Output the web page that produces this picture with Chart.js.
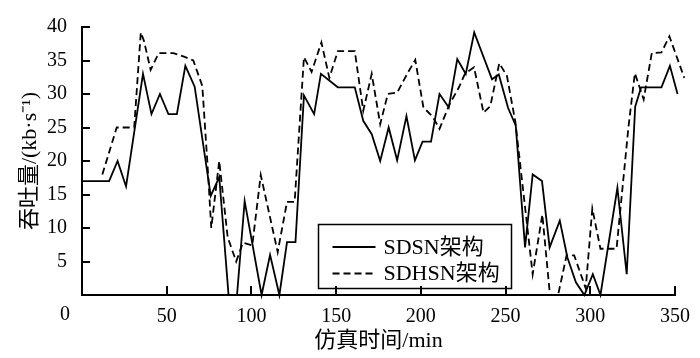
<!DOCTYPE html>
<html>
<head>
<meta charset="utf-8">
<script src="https://cdn.jsdelivr.net/npm/chart.js@4/dist/chart.umd.min.js"></script>
<style>
  html, body { margin: 0; padding: 0; background: #fff; }
  #wrap { width: 700px; height: 358px; }
</style>
</head>
<body>
<div id="wrap"><canvas id="throughputChart" width="700" height="358"></canvas></div>
<script>
// simulated time (min) and throughput (kb/s)
const sdsnTime = [0, 16, 21, 26, 36, 41, 46, 51, 56, 61, 66.5, 76, 81, 86.5, 91.5, 96, 106, 111, 116.5, 121, 126,
    131, 137, 141, 151, 161, 166, 171, 176, 181, 186, 191.5, 196.5, 201, 206, 211, 216.5, 221.5, 226.5, 231.5,
    242, 246, 251.5, 256, 261.5, 266, 271.5, 276, 282, 286.5, 291.5, 296.5, 301.5, 306, 316, 321.5, 326.5, 330,
    342, 347, 351.5];
const sdsnRate = [17, 17, 20, 16.2, 33, 27, 30, 27, 27, 34.2, 31.1, 14.8, 17.6, 0, 0, 14, 0, 6, 0, 7.9, 7.9,
    29.8, 27, 33, 31, 31, 26, 24, 20, 25, 20.1, 26.7, 20.1, 22.9, 22.9, 30, 28, 35.2, 33, 39.2,
    32.2, 32.9, 27.9, 25.3, 7.1, 18, 17, 7.1, 11.1, 5.6, 1.9, 0, 3.1, 0, 16, 3.1, 28.1, 31,
    31, 34.2, 30];

const sdhsnTime = [12, 20.5, 30.8, 34.7, 36.6, 40.5, 45.3, 54, 61, 65.7, 71, 74, 76.3, 81, 86, 91, 95, 100.5,
    105.5, 115.5, 121, 125.5, 131, 135.5, 141.3, 146, 151, 161, 166, 171, 176, 180.5, 186, 191.7, 196.7, 201.5,
    207, 211, 217, 222.5, 226, 231.4, 237, 241, 246.3, 250.8, 255.8, 266, 271.7, 276.2, 281, 286, 290.5, 297.3,
    301.2, 306, 315.5, 322.5, 326.3, 331.5, 336.3, 342, 346.7, 355.5];
const sdhsnRate = [18, 25, 25, 39.2, 37.9, 33.6, 36.1, 36.1, 35.5, 35, 31.2, 19.8, 10, 20, 8.6, 5, 7.8, 7.4,
    17.9, 6.4, 13.9, 13.9, 35.5, 33.3, 37.7, 32.4, 36.4, 36.4, 27.5, 33, 25.5, 30, 30.2, 32.9, 35.1, 28,
    26.6, 24.8, 28.5, 31, 33, 34, 27.2, 28.2, 34.6, 32.7, 25.8, 3.1, 12, 0, 0, 5.9, 5.9, 1,
    12.9, 6.9, 6.9, 25, 33.1, 29.2, 36.1, 36.2, 38.6, 32.4];

const seriesNames = ['SDSN架构', 'SDHSN架构'];
const xTicks = [0, 50, 100, 150, 200, 250, 300, 350];
const yTicks = [0, 5, 10, 15, 20, 25, 30, 35, 40];

const serif = '"Liberation Serif", "Times New Roman", "Noto Sans CJK SC", serif';

function toPoints(xs, ys) {
    return xs.map((x, i) => ({ x: x, y: ys[i] }));
}

// inward tick marks, the shared "0" at the corner and the boxed legend
const decorations = {
    id: 'decorations',
    afterDraw(chart) {
        const { ctx, chartArea, scales } = chart;
        const x = scales.x, y = scales.y;
        ctx.save();
        ctx.strokeStyle = '#000';
        ctx.lineWidth = 2;
        ctx.beginPath();
        xTicks.forEach(v => {
            if (v === 0) return;
            const px = Math.round(x.getPixelForValue(v));
            ctx.moveTo(px, chartArea.bottom);
            ctx.lineTo(px, chartArea.bottom - 9);
        });
        yTicks.forEach(v => {
            if (v === 0) return;
            const py = Math.round(y.getPixelForValue(v));
            ctx.moveTo(chartArea.left, py);
            ctx.lineTo(chartArea.left + 8, py);
        });
        ctx.stroke();

        ctx.fillStyle = '#000';
        ctx.font = '20px ' + serif;
        ctx.textAlign = 'center';
        ctx.textBaseline = 'middle';
        ctx.fillText('0', chartArea.left - 17, chartArea.bottom + 20);

        // legend box
        const bx = chartArea.left + 236.5, by = chartArea.top + 197.5;
        ctx.lineWidth = 1.5;
        ctx.strokeRect(bx, by, 193, 64);
        ctx.lineWidth = 1.8;
        ctx.font = '22px ' + serif;
        ctx.textAlign = 'left';
        chart.data.datasets.forEach((ds, i) => {
            const ly = by + 22.5 + i * 26.5;
            ctx.setLineDash(ds.borderDash || []);
            ctx.beginPath();
            ctx.moveTo(bx + 14, ly);
            ctx.lineTo(bx + 57, ly);
            ctx.stroke();
            ctx.setLineDash([]);
            ctx.fillText(ds.label, bx + 65, ly + 1);
        });
        ctx.restore();
    }
};

const ctx = document.getElementById('throughputChart').getContext('2d');
const throughputChart = new Chart(ctx, {
    type: 'line',
    data: {
        datasets: [{
            label: seriesNames[0],
            data: toPoints(sdsnTime, sdsnRate),
            borderColor: '#000',
            borderWidth: 1.8,
            pointRadius: 0,
            tension: 0,
            clip: false
        }, {
            label: seriesNames[1],
            data: toPoints(sdhsnTime, sdhsnRate),
            borderColor: '#000',
            borderWidth: 1.8,
            borderDash: [7, 4],
            pointRadius: 0,
            tension: 0,
            clip: false
        }]
    },
    options: {
        responsive: false,
        animation: false,
        devicePixelRatio: 1,
        layout: { padding: { top: 15, right: 16, left: 0, bottom: 0 } },
        plugins: {
            legend: { display: false },
            tooltip: { enabled: false }
        },
        scales: {
            x: {
                type: 'linear',
                min: 0,
                max: 350,
                afterFit: scale => { scale.height = 63; },
                afterBuildTicks: scale => { scale.ticks = xTicks.map(v => ({ value: v })); },
                grid: { display: false, drawTicks: false },
                border: { display: true, color: '#000', width: 2 },
                ticks: {
                    color: '#000',
                    padding: 10,
                    maxRotation: 0,
                    font: { family: serif, size: 20 },
                    callback: v => (v === 0 ? '' : v)
                },
                title: {
                    display: true,
                    text: '仿真时间/min',
                    color: '#000',
                    font: { family: serif, size: 22 },
                    padding: { top: 0, bottom: 4 }
                }
            },
            y: {
                min: 0,
                max: 40,
                afterFit: scale => { scale.width = 82; },
                afterBuildTicks: scale => { scale.ticks = yTicks.map(v => ({ value: v })); },
                grid: { display: false, drawTicks: false },
                border: { display: true, color: '#000', width: 2 },
                ticks: {
                    color: '#000',
                    padding: 15,
                    font: { family: serif, size: 20 },
                    callback: v => (v === 0 ? '' : v)
                },
                title: {
                    display: true,
                    text: '吞吐量/(kb·s⁻¹)',
                    color: '#000',
                    font: { family: serif, size: 22 },
                    padding: { top: 17, bottom: 0 }
                }
            }
        }
    },
    plugins: [decorations]
});
</script>
</body>
</html>
